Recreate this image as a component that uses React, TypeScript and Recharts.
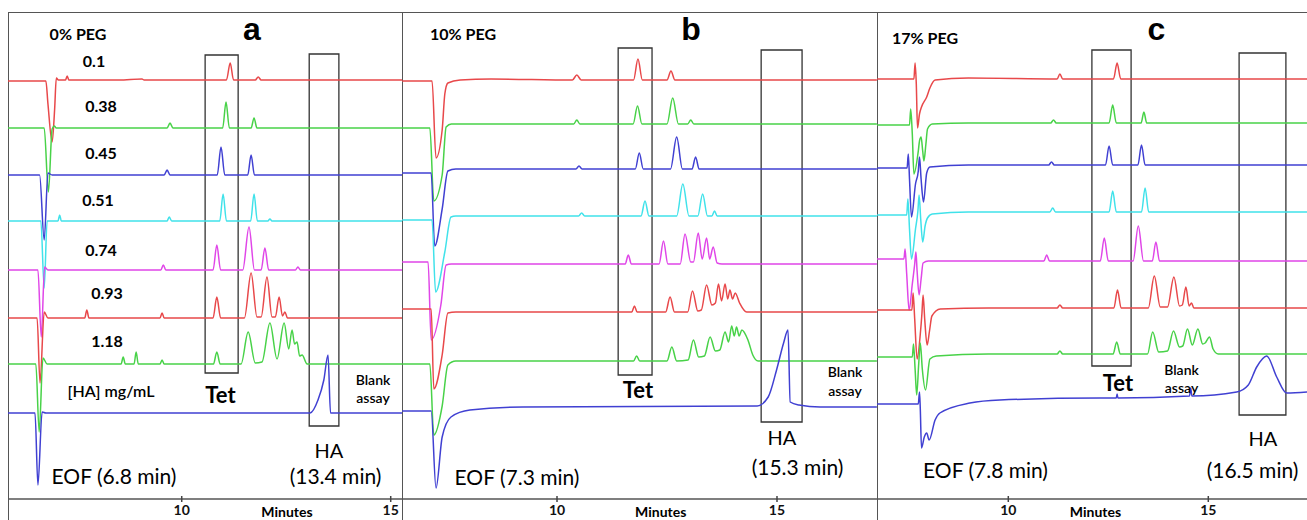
import React from 'react';
import { LineChart, Line, XAxis, YAxis, ReferenceArea } from 'recharts';

type P = [number, number];

// ---------- Panel a: 0% PEG (time in min, signal in arbitrary units) ----------
const aHA01: P[] = [[5.84,41.8],[6.75,41.8],[6.8,39.5],[6.9,35.7],[6.96,39.0],[7.0,42.1],[7.05,41.9],[7.22,41.9],[7.26,42.3],[7.3,41.9],[8.5,41.9],[9.05,42.0],[9.1,41.9],[11.07,41.9],[11.16,43.6],[11.24,41.9],[11.76,41.9],[11.83,42.2],[11.9,41.9],[15.27,41.9]];
const aHA038: P[] = [[5.84,37.1],[6.71,37.1],[6.81,30.7],[6.9,37.0],[6.95,37.3],[7.0,37.1],[9.65,37.1],[9.72,37.6],[9.79,37.1],[10.98,37.1],[11.06,39.7],[11.14,37.1],[11.66,37.1],[11.73,38.1],[11.8,37.1],[15.27,37.1]];
const aHA045: P[] = [[5.84,32.4],[6.6,32.4],[6.71,25.9],[6.8,32.6],[6.9,32.4],[9.58,32.4],[9.65,32.9],[9.72,32.4],[10.85,32.4],[10.94,35.2],[11.03,32.4],[11.58,32.4],[11.66,34.4],[11.74,32.4],[15.27,32.4]];
const aHA051: P[] = [[5.84,27.8],[6.63,27.8],[6.71,21.1],[6.78,27.8],[7.04,27.8],[7.08,28.4],[7.12,27.8],[9.65,27.8],[9.7,28.2],[9.76,27.8],[10.91,27.8],[10.99,30.5],[11.07,27.8],[11.65,27.8],[11.73,30.5],[11.81,27.8],[12.06,27.8],[12.11,28.0],[12.16,27.8],[15.27,27.8]];
const aHA074: P[] = [[5.84,22.9],[6.56,22.9],[6.64,16.2],[6.72,23.2],[6.8,22.9],[9.5,22.9],[9.56,23.4],[9.62,22.9],[10.75,22.9],[10.84,25.4],[10.93,22.9],[11.46,22.9],[11.61,27.2],[11.74,22.9],[11.9,22.9],[11.99,25.1],[12.08,22.9],[12.72,22.9],[12.78,23.2],[12.84,22.9],[15.27,22.9]];
const aHA093: P[] = [[5.84,18.1],[6.54,18.1],[6.61,11.6],[6.71,18.7],[6.8,18.1],[7.68,18.1],[7.73,18.9],[7.78,18.1],[9.48,18.1],[9.53,18.6],[9.58,18.1],[10.75,18.1],[10.84,20.2],[10.93,18.1],[11.5,18.1],[11.66,22.6],[11.8,18.2],[11.9,18.2],[12.04,22.2],[12.16,18.2],[12.24,18.2],[12.33,20.2],[12.41,18.3],[12.47,18.7],[12.53,18.1],[15.27,18.1]];
const aHA118: P[] = [[5.84,13.5],[6.51,13.5],[6.59,6.7],[6.68,14.1],[6.78,13.5],[8.55,13.5],[8.6,14.2],[8.65,13.5],[8.86,13.5],[8.91,14.7],[8.96,13.5],[9.48,13.5],[9.53,13.9],[9.58,13.5],[10.76,13.5],[10.84,14.7],[10.92,13.5],[11.42,13.5],[11.59,16.7],[11.76,13.6],[11.92,13.7],[12.11,17.6],[12.28,14.0],[12.45,17.6],[12.56,15.0],[12.64,16.9],[12.7,15.5],[12.76,15.7],[12.82,14.3],[12.88,14.4],[13.0,13.5],[15.27,13.5]];
const aBlank: P[] = [[5.84,8.6],[6.49,8.6],[6.56,1.4],[6.66,8.7],[6.75,8.6],[13.07,8.6],[13.26,9.9],[13.4,11.9],[13.5,14.4],[13.56,8.6],[15.27,8.6]];

// ---------- Panel b: 10% PEG ----------
const bHA01: P[] = [[6.48,41.8],[7.16,41.8],[7.25,34.1],[7.39,36.9],[7.45,40.5],[7.52,41.6],[7.8,41.9],[8.5,42.0],[10.35,41.9],[10.45,42.4],[10.55,41.9],[11.74,41.9],[11.84,44.0],[11.94,41.9],[12.5,41.9],[12.59,42.8],[12.68,41.9],[17.27,41.9]];
const bHA038: P[] = [[6.48,37.1],[7.11,37.1],[7.2,29.8],[7.39,32.4],[7.48,37.2],[7.6,37.5],[10.38,37.5],[10.45,37.9],[10.52,37.5],[11.73,37.5],[11.83,39.3],[11.93,37.5],[12.5,37.5],[12.63,40.1],[12.76,37.5],[12.97,37.5],[13.04,37.9],[13.11,37.5],[17.27,37.5]];
const bHA045: P[] = [[6.48,32.6],[7.14,32.6],[7.22,25.3],[7.39,29.0],[7.52,32.8],[7.7,33.0],[10.43,33.0],[10.5,33.3],[10.57,33.0],[11.78,33.0],[11.87,34.6],[11.96,33.0],[12.58,33.0],[12.72,36.2],[12.85,33.0],[13.07,33.0],[13.15,34.2],[13.23,33.0],[17.27,33.0]];
const bHA051: P[] = [[6.48,27.9],[7.16,27.9],[7.24,20.7],[7.45,24.7],[7.59,28.2],[7.7,28.3],[10.49,28.3],[10.56,28.6],[10.63,28.3],[11.91,28.3],[12.0,29.8],[12.09,28.3],[12.72,28.3],[12.86,31.5],[13.0,28.3],[13.2,28.3],[13.31,30.5],[13.42,28.3],[13.52,28.3],[13.58,28.8],[13.64,28.3],[17.27,28.3]];
const bHA074: P[] = [[6.48,23.7],[7.07,23.7],[7.14,15.9],[7.36,19.4],[7.48,23.4],[7.6,23.5],[11.55,23.5],[11.62,24.4],[11.69,23.5],[12.32,23.5],[12.42,25.8],[12.52,23.5],[12.8,23.5],[12.91,26.5],[13.04,23.7],[13.1,23.7],[13.21,26.6],[13.3,24.0],[13.4,26.1],[13.47,24.0],[13.55,25.2],[13.64,23.6],[13.75,23.5],[17.27,23.5]];
const bHA093: P[] = [[6.48,19.0],[7.14,19.0],[7.2,11.0],[7.39,14.4],[7.52,18.6],[7.7,18.7],[11.7,18.7],[11.76,19.3],[11.82,18.7],[12.47,18.7],[12.57,20.2],[12.67,18.7],[12.97,18.7],[13.08,20.8],[13.2,18.8],[13.28,18.9],[13.4,21.4],[13.52,19.4],[13.6,19.6],[13.67,21.5],[13.74,19.8],[13.82,21.5],[13.88,20.0],[13.93,20.9],[13.99,20.0],[14.05,20.6],[14.15,19.6],[14.31,18.7],[17.27,18.7]];
const bHA118: P[] = [[6.48,13.5],[7.11,13.5],[7.2,6.4],[7.39,9.3],[7.52,13.4],[7.7,13.8],[11.74,13.8],[11.81,14.3],[11.88,13.8],[12.5,13.8],[12.61,15.2],[12.72,13.8],[12.98,13.9],[13.1,15.9],[13.22,14.2],[13.35,14.3],[13.48,16.2],[13.6,14.8],[13.7,14.9],[13.82,16.7],[13.9,15.7],[13.97,17.3],[14.03,16.3],[14.08,17.2],[14.14,16.3],[14.2,16.9],[14.34,15.9],[14.45,14.4],[14.57,13.8],[17.27,13.8]];
const bBlank: P[] = [[6.48,8.8],[7.14,8.8],[7.25,1.1],[7.39,6.2],[7.59,8.2],[8.02,8.9],[9.23,9.2],[14.55,9.3],[14.8,10.2],[14.99,12.9],[15.15,15.6],[15.25,16.9],[15.3,9.7],[15.5,9.4],[15.98,9.2],[17.27,9.2]];

// ---------- Panel c: 17% PEG ----------
const cHA01: P[] = [[6.72,42.0],[7.64,42.0],[7.67,43.6],[7.7,41.5],[7.73,37.1],[7.78,38.5],[7.83,39.2],[7.96,40.2],[8.04,41.1],[8.17,41.9],[9.0,42.1],[11.22,42.0],[11.29,42.5],[11.36,42.0],[12.63,42.0],[12.72,43.6],[12.81,42.0],[17.47,42.0]];
const cHA038: P[] = [[6.72,37.4],[7.53,37.4],[7.56,39.0],[7.6,36.5],[7.64,32.5],[7.75,34.8],[7.78,35.8],[7.82,36.2],[7.86,34.8],[7.89,33.8],[7.94,35.5],[7.98,37.0],[8.1,37.5],[9.0,37.6],[11.06,37.6],[11.13,37.9],[11.2,37.6],[12.52,37.6],[12.61,39.4],[12.7,37.6],[13.32,37.6],[13.39,38.7],[13.46,37.6],[17.47,37.6]];
const cHA045: P[] = [[6.72,33.1],[7.47,33.1],[7.5,34.5],[7.53,32.0],[7.58,28.2],[7.68,31.5],[7.75,32.8],[7.78,34.2],[7.82,32.0],[7.88,29.7],[7.96,32.6],[8.04,33.2],[9.0,33.4],[11.01,33.4],[11.08,33.7],[11.15,33.4],[12.43,33.4],[12.52,35.3],[12.61,33.4],[13.24,33.4],[13.33,35.4],[13.42,33.4],[17.47,33.4]];
const cHA051: P[] = [[6.72,28.4],[7.46,28.4],[7.49,30.0],[7.53,27.0],[7.58,24.0],[7.68,27.0],[7.74,28.8],[7.77,30.4],[7.81,28.0],[7.86,25.7],[7.92,27.3],[7.98,28.1],[8.1,28.5],[9.0,28.7],[11.04,28.7],[11.11,29.1],[11.18,28.7],[12.52,28.7],[12.61,30.8],[12.7,28.7],[13.33,28.7],[13.42,31.1],[13.51,28.7],[17.47,28.7]];
const cHA074: P[] = [[6.72,24.0],[7.39,24.0],[7.42,25.0],[7.46,22.5],[7.52,18.9],[7.6,21.5],[7.66,23.5],[7.69,24.7],[7.72,22.8],[7.77,20.4],[7.82,22.0],[7.87,23.6],[8.0,23.8],[10.89,23.8],[10.96,24.4],[11.03,23.8],[12.3,23.8],[12.4,26.1],[12.5,23.8],[13.12,23.8],[13.25,27.3],[13.38,23.8],[13.6,23.8],[13.69,25.7],[13.78,23.8],[17.47,23.8]];
const cHA093: P[] = [[6.72,18.9],[7.59,18.9],[7.62,20.6],[7.66,18.0],[7.72,14.0],[7.8,16.5],[7.84,18.5],[7.87,20.4],[7.91,18.0],[7.97,15.4],[8.03,16.8],[8.09,18.3],[8.3,19.0],[9.5,19.1],[11.22,19.1],[11.29,19.4],[11.36,19.1],[12.64,19.1],[12.73,20.9],[12.82,19.1],[13.5,19.1],[13.65,22.3],[13.8,19.2],[13.98,19.2],[14.14,22.2],[14.28,19.3],[14.35,19.4],[14.44,21.2],[14.52,19.3],[14.58,19.6],[14.64,19.1],[17.47,19.1]];
const cHA118: P[] = [[6.72,14.2],[7.6,14.2],[7.63,15.5],[7.67,13.0],[7.71,10.4],[7.76,13.5],[7.8,15.6],[7.85,13.0],[7.93,10.9],[8.04,14.0],[8.2,14.3],[9.5,14.5],[11.22,14.5],[11.29,14.8],[11.36,14.5],[12.62,14.5],[12.71,15.7],[12.8,14.5],[13.48,14.5],[13.61,16.7],[13.76,14.7],[13.98,14.8],[14.13,16.8],[14.28,15.2],[14.36,15.3],[14.48,17.0],[14.6,15.4],[14.74,17.0],[14.86,15.5],[14.92,15.6],[15.03,16.2],[15.12,15.0],[15.25,14.5],[17.47,14.5]];
const cBlank: P[] = [[6.72,9.5],[7.75,9.5],[7.78,10.7],[7.8,9.0],[7.83,5.1],[7.9,6.2],[7.96,6.6],[8.02,5.9],[8.17,7.9],[8.29,8.6],[9.04,9.6],[9.79,9.9],[12.29,10.1],[12.7,10.1],[12.72,10.5],[12.74,10.1],[14.53,10.3],[14.56,11.1],[14.59,10.3],[15.71,10.7],[16.0,11.4],[16.21,13.2],[16.46,14.3],[16.71,12.2],[16.96,10.6],[17.47,10.7]];

// Integration windows (x1, x2, y1, y2)
const aTetBox = [10.56, 11.35, 12.6, 44.4];
const aHABox = [13.05, 13.76, 7.3, 44.5];
const bTetBox = [11.39, 12.16, 12.4, 45.1];
const bHABox = [14.64, 15.57, 7.7, 44.9];
const cTetBox = [12.09, 13.07, 13.3, 44.9];
const cHABox = [15.77, 16.94, 8.4, 44.6];

const xTicks = [10, 15];
const aDomain = [5.844, 15.27];
const bDomain = [6.477, 17.273];
const cDomain = [6.7175, 17.4675];

const RED = '#e8484a';
const GREEN = '#48d248';
const BLUE = '#4040d2';
const CYAN = '#40e2ea';
const MAGENTA = '#e046e8';
const traceColors = [RED, GREEN, BLUE, CYAN, MAGENTA, RED, GREEN, BLUE];

const toRows = (arr: P[]) => arr.map(([t, v]) => ({ t, v }));

const FONT = 'Lato, "Open Sans", sans-serif';

const AxisTick = (props: any) => {
  const { x, y, payload } = props;
  return (
    <g>
      <line x1={x} x2={x} y1={y - 3} y2={y + 3} stroke="#444" strokeWidth={1.5} />
      <text x={x} y={y + 16} textAnchor="middle" fontFamily={FONT} fontWeight={700} fontSize={14} fill="#111">
        {payload.value}
      </text>
    </g>
  );
};

type PanelProps = {
  left: number;
  width: number;
  domain: number[];
  traces: P[][];
  tetBox: number[];
  haBox: number[];
  id: string;
};

const Panel = ({ left, width, domain, traces, tetBox, haBox, id }: PanelProps) => (
  <div style={{ position: 'absolute', left, top: 12 }}>
    <LineChart width={width} height={508} margin={{ top: 0, right: 0, bottom: 0, left: 0 }}>
      <XAxis
        type="number"
        dataKey="t"
        domain={domain}
        allowDataOverflow
        ticks={xTicks}
        interval={0}
        tick={<AxisTick />}
        tickLine={false}
        tickSize={0}
        tickMargin={0}
        axisLine={{ stroke: '#555', strokeWidth: 1.5 }}
        height={21}
      />
      <YAxis type="number" hide domain={[0, 48.7]} allowDataOverflow />
      {traces.map((tr, i) => (
        <Line
          key={id + i}
          data={toRows(tr)}
          dataKey="v"
          type="monotone"
          stroke={traceColors[i]}
          strokeWidth={1.5}
          dot={false}
          activeDot={false}
          isAnimationActive={false}
        />
      ))}
      {[tetBox, haBox].map((b, i) => (
        <ReferenceArea
          key={id + 'box' + i}
          x1={b[0]}
          x2={b[1]}
          y1={b[2]}
          y2={b[3]}
          fill="none"
          fillOpacity={0}
          stroke="#333"
          strokeWidth={1.3}
          ifOverflow="visible"
        />
      ))}
    </LineChart>
  </div>
);

type LProps = { x: number; y: number; size: number; weight?: number; family?: string; children: React.ReactNode; lh?: number };
const L = ({ x, y, size, weight = 400, family = FONT, children, lh = 1 }: LProps) => (
  <div
    style={{
      position: 'absolute',
      left: x,
      top: y,
      transform: 'translate(-50%, -50%)',
      fontFamily: family,
      fontSize: size,
      fontWeight: weight,
      lineHeight: lh,
      whiteSpace: 'nowrap',
      color: '#000',
      textAlign: 'center',
    }}
  >
    {children}
  </div>
);

const ARIAL = '"Liberation Sans", Arial, sans-serif';

export default function App() {
  return (
    <div style={{ position: 'absolute', left: 0, top: 0, width: 1307, height: 520, overflow: 'hidden', background: '#fff' }}>
      {/* frame */}
      <div style={{ position: 'absolute', left: 8, top: 12, width: 1299, height: 0, borderTop: '1.5px solid #555' }} />
      <div style={{ position: 'absolute', left: 7.5, top: 12, width: 0, height: 508, borderLeft: '1.5px solid #555' }} />
      <div style={{ position: 'absolute', left: 401.5, top: 12, width: 0, height: 508, borderLeft: '1.5px solid #555' }} />
      <div style={{ position: 'absolute', left: 876.5, top: 12, width: 0, height: 508, borderLeft: '1.5px solid #555' }} />

      <Panel id="a" left={8} width={394} domain={aDomain} traces={[aHA01, aHA038, aHA045, aHA051, aHA074, aHA093, aHA118, aBlank]} tetBox={aTetBox} haBox={aHABox} />
      <Panel id="b" left={402} width={475} domain={bDomain} traces={[bHA01, bHA038, bHA045, bHA051, bHA074, bHA093, bHA118, bBlank]} tetBox={bTetBox} haBox={bHABox} />
      <Panel id="c" left={877} width={430} domain={cDomain} traces={[cHA01, cHA038, cHA045, cHA051, cHA074, cHA093, cHA118, cBlank]} tetBox={cTetBox} haBox={cHABox} />

      {/* panel a labels */}
      <L x={78} y={34} size={16} weight={700}>0% PEG</L>
      <L x={252} y={28.5} size={32} weight={700} family={ARIAL}>a</L>
      <L x={94} y={61} size={16} weight={700}>0.1</L>
      <L x={101} y={105.5} size={16} weight={700}>0.38</L>
      <L x={101} y={152.5} size={16} weight={700}>0.45</L>
      <L x={98} y={200} size={16} weight={700}>0.51</L>
      <L x={101} y={249.5} size={16} weight={700}>0.74</L>
      <L x={107} y={293} size={16} weight={700}>0.93</L>
      <L x={107} y={341} size={16} weight={700}>1.18</L>
      <L x={111} y={391} size={16} weight={600}>[HA] mg/mL</L>
      <L x={220.5} y={394.5} size={22} weight={700}>Tet</L>
      <L x={373} y={389.5} size={14} weight={600} lh={1.35}>Blank<br />assay</L>
      <L x={329} y={450} size={20}>HA</L>
      <L x={335.5} y={475} size={21}>(13.4 min)</L>
      <L x={114} y={475} size={21}>EOF (6.8 min)</L>
      <L x={287} y={512} size={14} weight={700}>Minutes</L>

      {/* panel b labels */}
      <L x={463} y={34} size={16} weight={700}>10% PEG</L>
      <L x={691} y={28.5} size={32} weight={700} family={ARIAL}>b</L>
      <L x={638} y={390} size={22} weight={700}>Tet</L>
      <L x={845} y={382} size={14} weight={600} lh={1.35}>Blank<br />assay</L>
      <L x={782} y={437} size={20}>HA</L>
      <L x={797.5} y={466} size={21}>(15.3 min)</L>
      <L x={517} y={476} size={21}>EOF (7.3 min)</L>
      <L x={660.7} y={512} size={14} weight={700}>Minutes</L>

      {/* panel c labels */}
      <L x={925} y={37.5} size={16} weight={700}>17% PEG</L>
      <L x={1156.5} y={29} size={32} weight={700} family={ARIAL}>c</L>
      <L x={1118} y={383} size={22} weight={700}>Tet</L>
      <L x={1181.5} y={379.5} size={14} weight={600} lh={1.35}>Blank<br />assay</L>
      <L x={1263} y={438} size={20}>HA</L>
      <L x={1252.5} y={469} size={21}>(16.5 min)</L>
      <L x={985.5} y={469} size={21}>EOF (7.8 min)</L>
      <L x={1095.5} y={512} size={14} weight={700}>Minutes</L>
    </div>
  );
}
